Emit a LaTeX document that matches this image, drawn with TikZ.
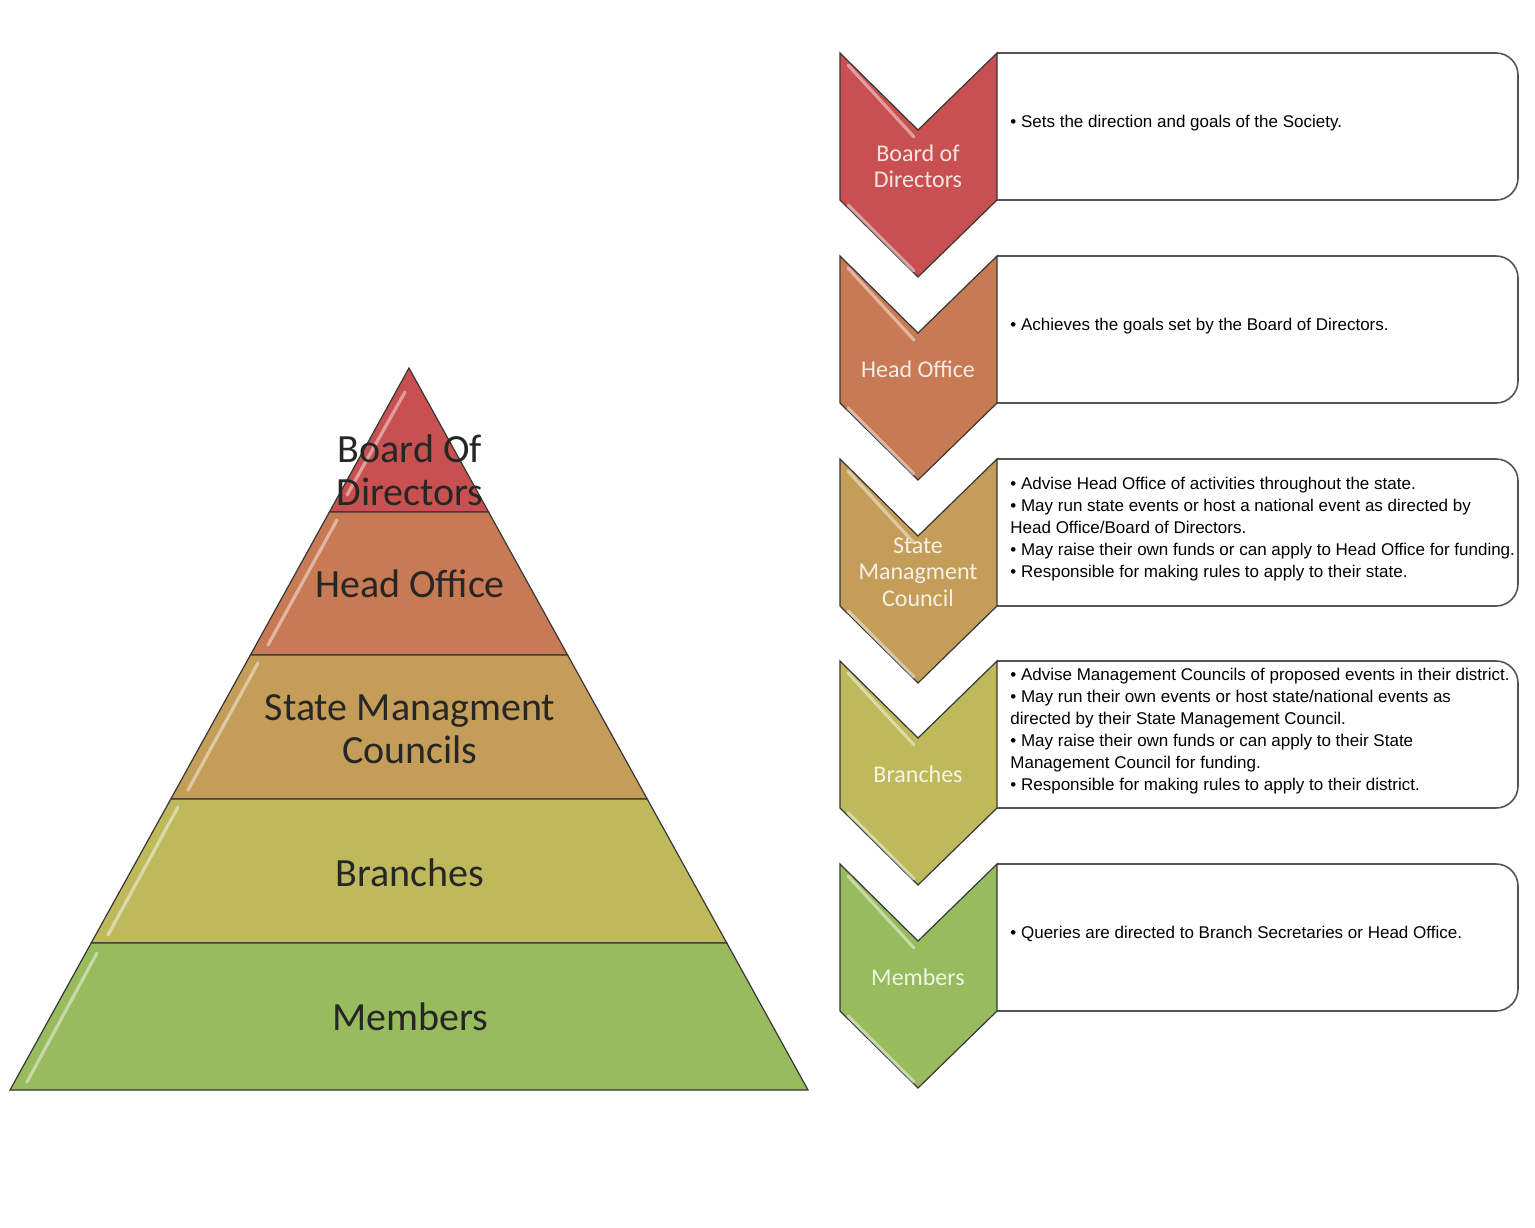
\documentclass[tikz,border=0pt]{standalone}
\usepackage{fontspec}
\setmainfont{Liberation Sans}
\newfontfamily\calfont{Carlito}
\definecolor{cA}{RGB}{200,80,80}
\definecolor{cB}{RGB}{199,122,84}
\definecolor{cC}{RGB}{196,158,88}
\definecolor{cD}{RGB}{190,186,92}
\definecolor{cE}{RGB}{152,187,94}
\definecolor{edge}{RGB}{55,55,55}
\definecolor{boxedge}{RGB}{85,85,85}
\tikzset{
  layer/.style={draw=edge, line width=0.6pt, line join=miter},
  gloss/.style={draw=white, opacity=0.45, line width=1.6pt, line cap=round},
  chevline/.style={draw=edge, line width=0.6pt, line join=miter},
  boxline/.style={draw=boxedge, line width=0.8pt, fill=white},
  pyrtext/.style={font=\calfont\fontsize{20}{21.5}\selectfont, text=black!85, align=center},
  chevtext/.style={font=\calfont\fontsize{12}{13.2}\selectfont, align=center},
  boxtext/.style={font=\fontsize{8.5}{11}\selectfont, align=left, inner sep=0pt, anchor=west}
}
\newcommand{\levelrow}[5]{%
  \draw[boxline, rounded corners=11pt] (997,#1) -- (1518,#1) -- (1518,#1+147) -- (997,#1+147);
  \filldraw[chevline, fill=#2] (840,#1) -- (918,#1+77) -- (997,#1) -- (997,#1+147) -- (918,#1+224) -- (840,#1+147) -- cycle;
  \draw[gloss] (848,#1+12) -- (914,#1+84);
  \draw[gloss] (848,#1+152) -- (914,#1+218);
  \node[chevtext, text=#2!15!white] (#3c) at (918,#1+113) {#4};
  \node[boxtext] (#3t) at (1010,#1+70) {#5};
}
\begin{document}
\begin{tikzpicture}[x=0.5pt,y=-0.5pt]
\useasboundingbox (0,0) rectangle (1535,1227);
\fill[white] (0,0) rectangle (1535,1227);
% pyramid
\filldraw[layer, fill=cA] (409,368) -- (488.6,512) -- (329.4,512) -- cycle;
\filldraw[layer, fill=cB] (329.4,512) -- (488.6,512) -- (567.6,655) -- (250.4,655) -- cycle;
\filldraw[layer, fill=cC] (250.4,655) -- (567.6,655) -- (647.2,799) -- (170.8,799) -- cycle;
\filldraw[layer, fill=cD] (170.8,799) -- (647.2,799) -- (726.8,943) -- (91.2,943) -- cycle;
\filldraw[layer, fill=cE] (91.2,943) -- (726.8,943) -- (808,1090) -- (10,1090) -- cycle;
\draw[gloss] (405,392) -- (347,495);
\draw[gloss] (337,520) -- (268,645);
\draw[gloss] (258,663) -- (188,790);
\draw[gloss] (178,807) -- (108,935);
\draw[gloss] (97,953) -- (27,1082);
\node[pyrtext] (pA) at (410,470) {Board Of\\Directors};
\node[pyrtext] (pB) at (410,584) {Head Office};
\node[pyrtext] (pC) at (410,729) {State Managment\\Councils};
\node[pyrtext] (pD) at (410,873) {Branches};
\node[pyrtext] (pE) at (410,1017) {Members};
% chevrons and boxes
\levelrow{53}{cA}{bod}{Board of\\Directors}{• Sets the direction and goals of the Society.}
\levelrow{256}{cB}{ho}{Head Office}{• Achieves the goals set by the Board of Directors.}
\levelrow{459}{cC}{smc}{State\\Managment\\Council}{• Advise Head Office of activities throughout the state.\\• May run state events or host a national event as directed by\\Head Office/Board of Directors.\\• May raise their own funds or can apply to Head Office for funding.\\• Responsible for making rules to apply to their state.}
\levelrow{661}{cD}{br}{Branches}{• Advise Management Councils of proposed events in their district.\\• May run their own events or host state/national events as\\directed by their State Management Council.\\• May raise their own funds or can apply to their State\\Management Council for funding.\\• Responsible for making rules to apply to their district.}
\levelrow{864}{cE}{mem}{Members}{• Queries are directed to Branch Secretaries or Head Office.}
\end{tikzpicture}
\end{document}
